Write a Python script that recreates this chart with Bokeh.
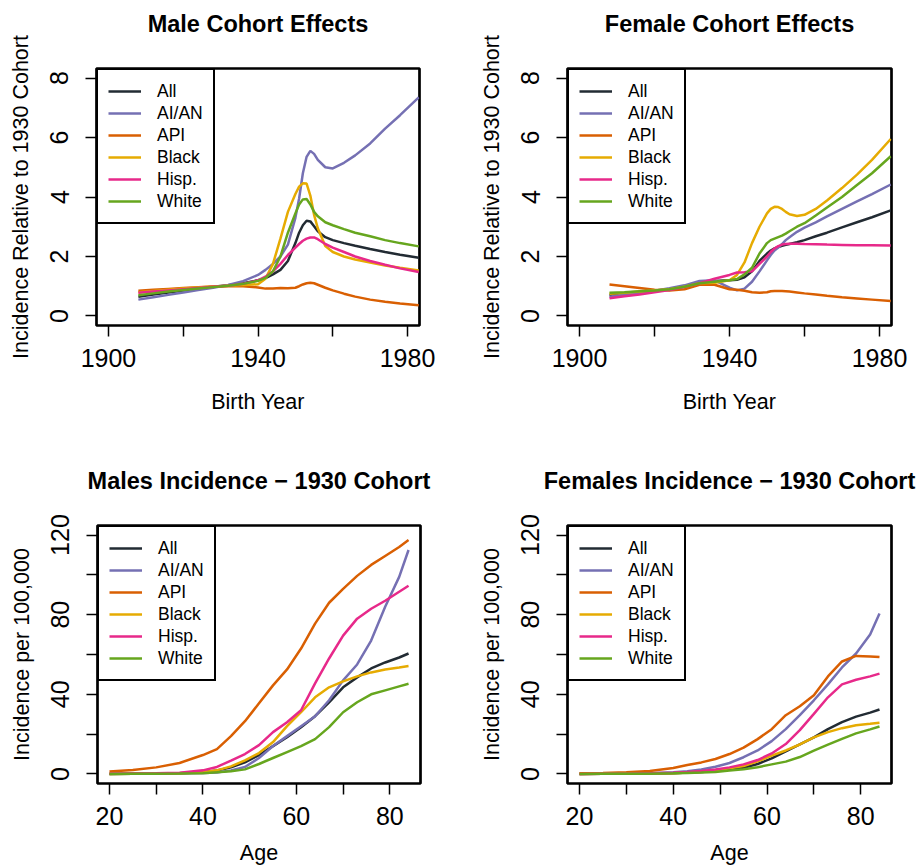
from bokeh.plotting import figure
from bokeh.layouts import column, row
from bokeh.models import Legend, LegendItem, FixedTicker, Range1d, Title
from bokeh.embed import file_html
from bokeh.resources import INLINE

# ---------------- data ----------------
groups = ["All", "AI/AN", "API", "Black", "Hisp.", "White"]
colors = ["#222b33", "#7570b3", "#d95f02", "#e6ab02", "#e7298a", "#66a61e"]

birth_year = [1908, 1912, 1916, 1920, 1924, 1928, 1932, 1936, 1940, 1942, 1944, 1946, 1948,
              1950, 1951, 1952, 1953, 1954, 1955, 1956, 1958, 1960, 1963, 1966, 1970, 1974, 1978, 1983]

male_all   = [0.65, 0.72, 0.79, 0.86, 0.93, 0.98, 1.03, 1.10, 1.20, 1.27, 1.40, 1.55, 1.85,
              2.45, 2.80, 3.05, 3.20, 3.18, 3.02, 2.85, 2.65, 2.55, 2.45, 2.36, 2.25, 2.15, 2.06, 1.96]
male_aian  = [0.55, 0.63, 0.71, 0.79, 0.87, 0.95, 1.04, 1.17, 1.38, 1.55, 1.75, 2.00, 2.40,
              3.30, 3.95, 4.80, 5.35, 5.55, 5.45, 5.25, 5.00, 4.96, 5.15, 5.40, 5.80, 6.30, 6.75, 7.35]
male_api   = [0.85, 0.88, 0.91, 0.94, 0.97, 0.99, 1.00, 1.00, 0.96, 0.92, 0.92, 0.94, 0.93,
              0.95, 1.00, 1.06, 1.10, 1.12, 1.10, 1.05, 0.95, 0.86, 0.75, 0.65, 0.55, 0.48, 0.42, 0.36]
male_black = [0.80, 0.84, 0.88, 0.92, 0.96, 0.99, 1.02, 1.04, 1.07, 1.25, 1.75, 2.60, 3.50,
              4.10, 4.35, 4.46, 4.45, 4.05, 3.40, 2.95, 2.35, 2.15, 2.00, 1.90, 1.80, 1.70, 1.62, 1.53]
male_hisp  = [0.78, 0.82, 0.86, 0.90, 0.94, 0.98, 1.02, 1.08, 1.20, 1.32, 1.50, 1.75, 2.05,
              2.30, 2.42, 2.53, 2.60, 2.64, 2.64, 2.58, 2.42, 2.30, 2.15, 2.00, 1.85, 1.72, 1.60, 1.48]
male_white = [0.70, 0.76, 0.82, 0.87, 0.92, 0.97, 1.02, 1.08, 1.18, 1.28, 1.50, 2.00, 2.80,
              3.45, 3.75, 3.92, 3.93, 3.75, 3.50, 3.35, 3.15, 3.05, 2.92, 2.80, 2.68, 2.55, 2.45, 2.34]

female_all   = [0.70, 0.75, 0.80, 0.85, 0.90, 1.00, 1.12, 1.18, 1.20, 1.22, 1.30, 1.50, 1.85,
                2.10, 2.20, 2.27, 2.32, 2.36, 2.39, 2.42, 2.48, 2.55, 2.68, 2.80, 2.98, 3.15, 3.32, 3.55]
female_aian  = [0.65, 0.72, 0.78, 0.85, 0.93, 1.03, 1.18, 1.20, 0.95, 0.86, 0.92, 1.15, 1.50,
                1.87, 2.05, 2.20, 2.30, 2.42, 2.55, 2.65, 2.83, 2.97, 3.15, 3.35, 3.60, 3.85, 4.10, 4.42]
female_api   = [1.06, 1.00, 0.94, 0.88, 0.86, 0.90, 1.05, 1.05, 0.90, 0.88, 0.85, 0.80, 0.78,
                0.80, 0.83, 0.84, 0.84, 0.84, 0.83, 0.82, 0.79, 0.76, 0.72, 0.68, 0.63, 0.59, 0.55, 0.50]
female_black = [0.75, 0.78, 0.82, 0.86, 0.90, 0.98, 1.10, 1.12, 1.20, 1.38, 1.80, 2.45, 3.00,
                3.45, 3.60, 3.67, 3.66, 3.60, 3.50, 3.42, 3.36, 3.40, 3.60, 3.88, 4.30, 4.75, 5.25, 5.95]
female_hisp  = [0.60, 0.66, 0.72, 0.80, 0.87, 0.97, 1.10, 1.25, 1.38, 1.46, 1.47, 1.50, 1.75,
                2.00, 2.15, 2.27, 2.35, 2.40, 2.42, 2.43, 2.43, 2.42, 2.41, 2.40, 2.39, 2.38, 2.38, 2.37]
female_white = [0.78, 0.80, 0.83, 0.86, 0.90, 0.98, 1.10, 1.15, 1.20, 1.24, 1.40, 1.62, 2.10,
                2.45, 2.55, 2.60, 2.65, 2.70, 2.77, 2.85, 3.00, 3.12, 3.38, 3.65, 4.00, 4.40, 4.80, 5.37]

age = [20, 25, 30, 35, 40, 43, 46, 49, 52, 55, 58, 61, 64, 67, 70, 73, 76, 79, 82, 84]

m_inc_all   = [0.0, 0.1, 0.2, 0.4, 0.8, 1.7, 3.3, 5.8, 9.5, 14.0, 18.5, 23.5, 29.0, 36.0, 43.5, 48.5, 53.0, 56.0, 58.5, 60.5]
m_inc_aian  = [0.1, 0.1, 0.2, 0.3, 0.5, 0.7, 1.8, 3.5, 8.0, 14.0, 19.0, 24.0, 29.0, 37.0, 47.0, 55.0, 67.0, 84.0, 99.0, 112.5]
m_inc_api   = [1.2, 2.0, 3.3, 5.5, 9.5, 12.5, 19.0, 26.5, 35.5, 44.5, 52.5, 63.0, 75.5, 86.0, 93.0, 99.5, 105.0, 109.5, 114.0, 117.5]
m_inc_black = [0.0, 0.1, 0.2, 0.4, 0.8, 1.8, 3.8, 6.8, 10.5, 16.0, 24.0, 31.0, 38.5, 43.5, 46.5, 49.0, 51.0, 52.5, 53.5, 54.2]
m_inc_hisp  = [0.1, 0.2, 0.3, 0.6, 1.8, 3.5, 6.7, 10.0, 14.5, 21.0, 26.0, 32.0, 45.5, 58.0, 69.5, 78.0, 83.0, 87.0, 91.5, 94.5]
m_inc_white = [0.0, 0.05, 0.1, 0.2, 0.4, 0.8, 1.4, 2.3, 5.0, 8.0, 11.0, 14.0, 17.5, 23.5, 31.0, 36.0, 40.0, 42.0, 44.0, 45.3]

f_inc_all   = [0.0, 0.05, 0.1, 0.2, 0.4, 0.7, 1.0, 1.5, 2.3, 3.1, 5.0, 7.8, 11.3, 14.8, 18.4, 22.5, 26.0, 28.8, 30.8, 32.4]
f_inc_aian  = [0.1, 0.1, 0.2, 0.4, 0.9, 1.3, 2.2, 3.6, 5.5, 8.4, 11.8, 16.5, 22.5, 29.5, 37.0, 45.0, 53.5, 60.5, 70.0, 80.6]
f_inc_api   = [0.3, 0.5, 0.8, 1.5, 3.0, 4.5, 5.8, 7.5, 10.0, 13.2, 17.5, 22.5, 29.5, 34.0, 39.5, 49.0, 56.5, 59.3, 59.0, 58.7]
f_inc_black = [0.0, 0.05, 0.1, 0.2, 0.4, 0.7, 1.1, 1.8, 2.9, 4.0, 6.3, 9.2, 11.8, 14.8, 18.4, 21.0, 23.0, 24.5, 25.2, 25.7]
f_inc_hisp  = [0.0, 0.1, 0.1, 0.3, 0.6, 1.0, 1.5, 2.2, 3.3, 4.8, 7.0, 10.3, 15.0, 22.0, 30.2, 38.5, 45.0, 47.3, 49.0, 50.4]
f_inc_white = [0.0, 0.05, 0.1, 0.15, 0.3, 0.5, 0.7, 1.0, 1.7, 2.4, 3.4, 4.8, 6.2, 8.5, 11.7, 14.7, 17.6, 20.4, 22.4, 23.8]

cohort_ticks = [1900, 1920, 1940, 1960, 1980]
cohort_tick_labels = {1900: "1900", 1920: "", 1940: "1940", 1960: "", 1980: "1980"}
ratio_ticks = [0, 2, 4, 6, 8]
age_ticks = [20, 30, 40, 50, 60, 70, 80]
age_tick_labels = {20: "20", 30: "", 40: "40", 50: "", 60: "60", 70: "", 80: "80"}
inc_ticks = [0, 20, 40, 60, 80, 100, 120]
inc_tick_labels = {0: "0", 20: "", 40: "40", 60: "", 80: "80", 100: "", 120: "120"}

FONT = "Liberation Sans"


def make_panel(title, xs, series, xr, yr, xticks, xlabels, yticks, ylabels, xlab, ylab,
               frame_w, frame_h, bl, br, bt, bb, xlab_standoff, gap):
    p = figure(frame_width=frame_w, frame_height=frame_h, x_range=Range1d(*xr), y_range=Range1d(*yr),
               output_backend="svg", toolbar_location=None,
               min_border_left=bl, min_border_right=br, min_border_top=bt, min_border_bottom=bb)
    p.title.text = title
    p.title.align = "center"
    p.title.text_font = FONT
    p.title.text_font_size = "23.5px"
    p.title.text_font_style = "bold"
    p.title.text_color = "black"
    p.title.standoff = 0
    # blank spacer between the frame and the title (pushes the title upward)
    p.add_layout(Title(text=" ", text_font_size="10px", standoff=gap), "above")
    p.xgrid.visible = False
    p.ygrid.visible = False
    p.outline_line_color = "black"
    p.outline_line_width = 2.7
    p.outline_line_alpha = 1

    for ax, ticks, labels, lab in ((p.xaxis[0], xticks, xlabels, xlab), (p.yaxis[0], yticks, ylabels, ylab)):
        ax.ticker = FixedTicker(ticks=ticks)
        ax.major_label_overrides = {k: v for k, v in labels.items()} if labels else {}
        ax.minor_tick_line_color = None
        ax.major_tick_in = 0
        ax.major_tick_out = 11
        ax.major_tick_line_width = 1.5
        ax.major_tick_line_color = "black"
        ax.axis_line_color = None
        ax.major_label_text_font = FONT
        ax.major_label_text_font_size = "25px"
        ax.major_label_text_color = "black"
        ax.axis_label = lab
        ax.axis_label_text_font = FONT
        ax.axis_label_text_font_size = "21.5px"
        ax.axis_label_text_font_style = "normal"
        ax.axis_label_text_color = "black"
    p.xaxis[0].major_label_standoff = 12
    p.xaxis[0].axis_label_standoff = xlab_standoff
    p.yaxis[0].major_label_orientation = "vertical"
    p.yaxis[0].major_label_standoff = 17
    p.yaxis[0].axis_label_standoff = 15

    items = []
    for name, col, ys in zip(groups, colors, series):
        r = p.line(xs, ys, line_color=col, line_width=2.5)
        items.append(LegendItem(label=name, renderers=[r]))
    leg = Legend(items=items, location="top_left", margin=0, padding=10, spacing=0,
                 glyph_width=33, glyph_height=22, label_height=22, label_standoff=16,
                 label_text_font=FONT, label_text_font_size="17.5px", label_text_color="black",
                 border_line_color="black", border_line_width=2.7, border_line_alpha=1,
                 background_fill_color="white", background_fill_alpha=1)
    p.add_layout(leg)
    return p


cohort_xr = (1896.8, 1983.2)
cohort_yr = (-0.32, 8.32)
age_xr = (17.44, 86.56)
inc_yr = (-4.8, 124.8)

p1 = make_panel("Male Cohort Effects", birth_year,
                [male_all, male_aian, male_api, male_black, male_hisp, male_white],
                cohort_xr, cohort_yr, cohort_ticks, cohort_tick_labels, ratio_ticks, None,
                "Birth Year", "Incidence Relative to 1930 Cohort", 323, 257, 96, 53, 68, 115, 20, 19)
p2 = make_panel("Female Cohort Effects", birth_year,
                [female_all, female_aian, female_api, female_black, female_hisp, female_white],
                cohort_xr, cohort_yr, cohort_ticks, cohort_tick_labels, ratio_ticks, None,
                "Birth Year", "Incidence Relative to 1930 Cohort", 324, 257, 95, 27, 68, 115, 20, 19)
p3 = make_panel("Males Incidence \u2212 1930 Cohort", age,
                [m_inc_all, m_inc_aian, m_inc_api, m_inc_black, m_inc_hisp, m_inc_white],
                age_xr, inc_yr, age_ticks, age_tick_labels, inc_ticks, inc_tick_labels,
                "Age", "Incidence per 100,000", 323, 258, 97, 52, 85, 85, 13, 19)
p4 = make_panel("Females Incidence \u2212 1930 Cohort", age,
                [f_inc_all, f_inc_aian, f_inc_api, f_inc_black, f_inc_hisp, f_inc_white],
                age_xr, inc_yr, age_ticks, age_tick_labels, inc_ticks, inc_tick_labels,
                "Age", "Incidence per 100,000", 324, 258, 95, 27, 85, 85, 13, 19)

layout = column(row(p1, p2), row(p3, p4))
open("out.html", "w").write(file_html(layout, INLINE))
